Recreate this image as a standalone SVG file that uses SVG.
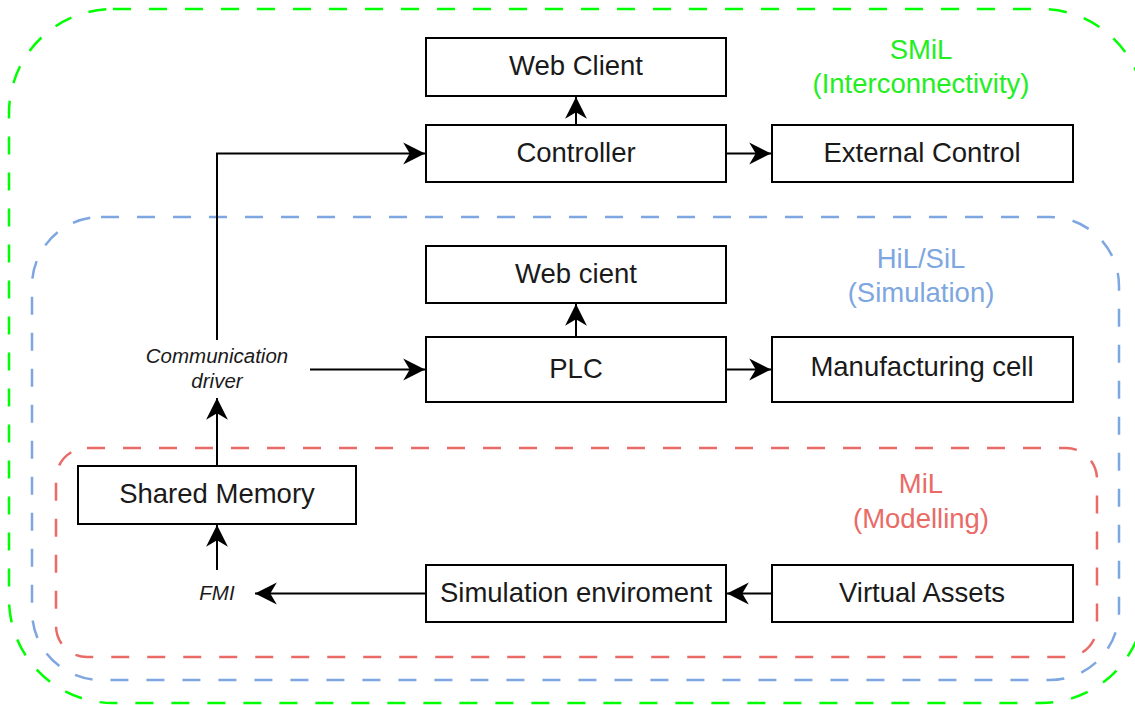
<svg xmlns="http://www.w3.org/2000/svg" width="1135" height="705" viewBox="0 0 1135 705">
<style>
.box{fill:#fff;stroke:#000;stroke-width:2}
.t{font-family:"Liberation Sans",Arial,sans-serif;font-size:27.5px;fill:#1a1a1a;text-anchor:middle}
.it{font-family:"Liberation Sans",Arial,sans-serif;font-size:20.5px;font-style:italic;fill:#1a1a1a;text-anchor:middle}
.c{fill:none;stroke:#000;stroke-width:2}
.zone{fill:none;stroke-width:2.5;stroke-dasharray:18 18}
</style>
<defs>
<marker id="ah" markerUnits="userSpaceOnUse" markerWidth="24" markerHeight="24" viewBox="-21 -11 22 22" refX="0" refY="0" orient="auto">
<path d="M0,0 L-20,-10 L-14,0 L-20,10 Z" fill="#000"/>
</marker>
</defs>
<g id="zones">
<rect x="9" y="9" width="1136" height="694" rx="104" class="zone" stroke="#00ff00"/>
<rect x="32" y="217" width="1087" height="463" rx="69" class="zone" stroke="#7ea6e0"/>
<rect x="56" y="448" width="1041" height="209" rx="31" class="zone" stroke="#ea6b66" stroke-dasharray="15 22"/>
<text class="t" x="921" y="59" style="fill:#22ee22">SMiL</text>
<text class="t" x="921" y="93" style="fill:#22ee22">(Interconnectivity)</text>
<text class="t" x="921" y="268" style="fill:#7ea6e0">HiL/SiL</text>
<text class="t" x="921" y="302" style="fill:#7ea6e0">(Simulation)</text>
<text class="t" x="921" y="493" style="fill:#ea6b66">MiL</text>
<text class="t" x="921" y="528" style="fill:#ea6b66">(Modelling)</text>
</g>
<g id="connectors">
<path class="c" d="M576,125 V97" marker-end="url(#ah)"/>
<path class="c" d="M726,153.5 H771" marker-end="url(#ah)"/>
<path class="c" d="M217,340 V153.5 H425" marker-end="url(#ah)"/>
<path class="c" d="M310,369.5 H425" marker-end="url(#ah)"/>
<path class="c" d="M576,337 V304" marker-end="url(#ah)"/>
<path class="c" d="M726,369.5 H771" marker-end="url(#ah)"/>
<path class="c" d="M217,466 V398" marker-end="url(#ah)"/>
<path class="c" d="M217,570 V525" marker-end="url(#ah)"/>
<path class="c" d="M426,593.5 H255" marker-end="url(#ah)"/>
<path class="c" d="M772,593.5 H727" marker-end="url(#ah)"/>
</g>
<g id="web-client"><rect class="box" x="426" y="38" width="300" height="58"/><text class="t" x="576" y="75">Web Client</text></g>
<g id="controller"><rect class="box" x="426" y="125" width="300" height="57"/><text class="t" x="576" y="162">Controller</text></g>
<g id="external-control"><rect class="box" x="772" y="125" width="301" height="57"/><text class="t" x="922" y="162">External Control</text></g>
<g id="web-cient"><rect class="box" x="426" y="246" width="300" height="57"/><text class="t" x="576" y="283">Web cient</text></g>
<g id="plc"><rect class="box" x="426" y="337" width="300" height="65"/><text class="t" x="576" y="378">PLC</text></g>
<g id="manufacturing-cell"><rect class="box" x="772" y="337" width="301" height="65"/><text class="t" x="922" y="376">Manufacturing cell</text></g>
<g id="communication-driver"><text class="it" x="217" y="363">Communication</text><text class="it" x="217" y="388">driver</text></g>
<g id="shared-memory"><rect class="box" x="78" y="466" width="278" height="58"/><text class="t" x="217" y="503">Shared Memory</text></g>
<g id="fmi"><text class="it" x="217" y="600">FMI</text></g>
<g id="simulation-environment"><rect class="box" x="426" y="565" width="300" height="57"/><text class="t" x="576" y="602">Simulation enviroment</text></g>
<g id="virtual-assets"><rect class="box" x="772" y="565" width="301" height="57"/><text class="t" x="922" y="602">Virtual Assets</text></g>
</svg>
